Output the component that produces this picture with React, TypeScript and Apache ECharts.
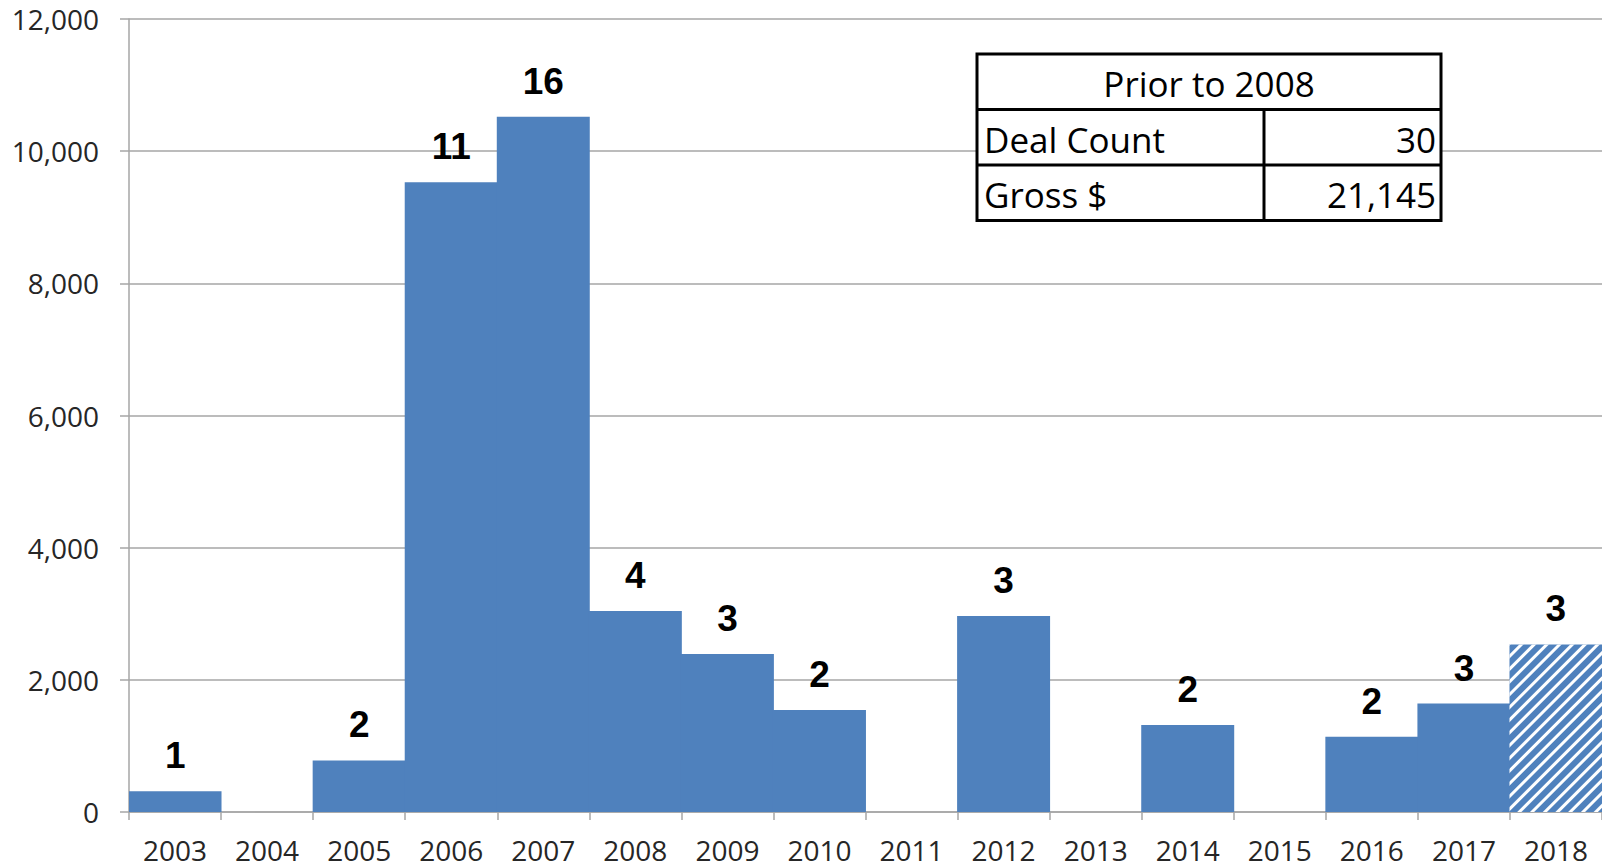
import React, { useEffect, useRef } from "react";
import * as echarts from "echarts";

const years = ["2003","2004","2005","2006","2007","2008","2009","2010","2011","2012","2013","2014","2015","2016","2017","2018"];
const grossValues = [315, 0, 780, 9530, 10520, 3040, 2390, 1545, 0, 2965, 0, 1315, 0, 1140, 1640, 2535];
const dealCounts = [1, 0, 2, 11, 16, 4, 3, 2, 0, 3, 0, 2, 0, 2, 3, 3];
const hatchedYears = ["2018"];
const tableTitle = "Prior to 2008";
const tableRows = [["Deal Count", "30"], ["Gross $", "21,145"]];

const BLUE = "#4F81BD";
const GRID = "#a6a6a6";
const FONT = "'Open Sans', sans-serif";

export default function App() {
  const ref = useRef<HTMLDivElement>(null);
  useEffect(() => {
    if (!ref.current) return;
    const chart = echarts.init(ref.current, undefined, { renderer: "svg" });
    const data = grossValues.map((v, i) => {
      const item: any = { value: v };
      if (hatchedYears.includes(years[i])) {
        item.itemStyle = {
          color: BLUE,
          decal: {
            symbol: "rect",
            symbolSize: 1,
            color: "#ffffff",
            dashArrayX: [1, 0],
            dashArrayY: [3, 6],
            rotation: -Math.PI / 4,
          },
        };
      }
      return item;
    });

    // table
    const tx = 977, ty = 54, tw = 464, rh = 55.5, colX = 1264;
    const fs = 35;
    const lineStyle = { stroke: "#000", lineWidth: 3 };
    const tableEls: any[] = [
      { type: "rect", shape: { x: tx, y: ty, width: tw, height: rh * 3 }, style: { fill: "#fff", stroke: "#000", lineWidth: 3 }, z: 100 },
      { type: "line", shape: { x1: tx, y1: ty + rh, x2: tx + tw, y2: ty + rh }, style: lineStyle, z: 101 },
      { type: "line", shape: { x1: tx, y1: ty + rh * 2, x2: tx + tw, y2: ty + rh * 2 }, style: lineStyle, z: 101 },
      { type: "line", shape: { x1: colX, y1: ty + rh, x2: colX, y2: ty + rh * 3 }, style: lineStyle, z: 101 },
      { type: "text", x: tx + tw / 2, y: ty + rh / 2 + 2, style: { text: tableTitle, fontFamily: FONT, fontSize: fs, fill: "#000", align: "center", verticalAlign: "middle" }, z: 102 },
    ];
    tableRows.forEach((r, i) => {
      const cy = ty + rh * (i + 1) + rh / 2 + 2;
      tableEls.push({ type: "text", x: tx + 7, y: cy, style: { text: r[0], fontFamily: FONT, fontSize: fs, fill: "#000", align: "left", verticalAlign: "middle" }, z: 102 });
      tableEls.push({ type: "text", x: tx + tw - 5, y: cy, style: { text: r[1], fontFamily: FONT, fontSize: fs, fill: "#000", align: "right", verticalAlign: "middle" }, z: 102 });
    });

    chart.setOption({
      animation: false,
      backgroundColor: "#ffffff",
      grid: { left: 129, right: 0, top: 19, bottom: 56, containLabel: false },
      xAxis: {
        type: "category",
        data: years,
        boundaryGap: true,
        axisLine: { show: true, lineStyle: { color: GRID, width: 1.5 } },
        axisTick: { show: true, length: 8, interval: 0, lineStyle: { color: GRID, width: 1.5 } },
        axisLabel: { interval: 0, margin: 24, fontFamily: FONT, fontSize: 28, lineHeight: 28, color: "#262626" },
        splitLine: { show: false },
      },
      yAxis: {
        type: "value",
        min: 0,
        max: 12000,
        interval: 2000,
        axisLine: { show: true, lineStyle: { color: GRID, width: 1.5 } },
        axisTick: { show: true, length: 9, lineStyle: { color: GRID, width: 1.5 } },
        axisLabel: {
          margin: 30,
          fontFamily: FONT,
          fontSize: 28,
          color: "#262626",
          formatter: (v: number) => v.toLocaleString("en-US"),
        },
        splitLine: { show: true, lineStyle: { color: GRID, width: 1.5 } },
      },
      series: [
        {
          type: "bar",
          data,
          barCategoryGap: "-1%",
          itemStyle: { color: BLUE },
          label: {
            show: true,
            position: "top",
            distance: 17,
            fontFamily: "'Liberation Sans', Arial, sans-serif",
            fontWeight: "bold",
            fontSize: 37,
            color: "#000",
            formatter: (p: any) => (dealCounts[p.dataIndex] ? String(dealCounts[p.dataIndex]) : ""),
          },
        },
      ],
      graphic: tableEls,
    });
    return () => chart.dispose();
  }, []);
  return <div ref={ref} style={{ position: "fixed", left: 0, top: 0, width: 1602, height: 868 }} />;
}
